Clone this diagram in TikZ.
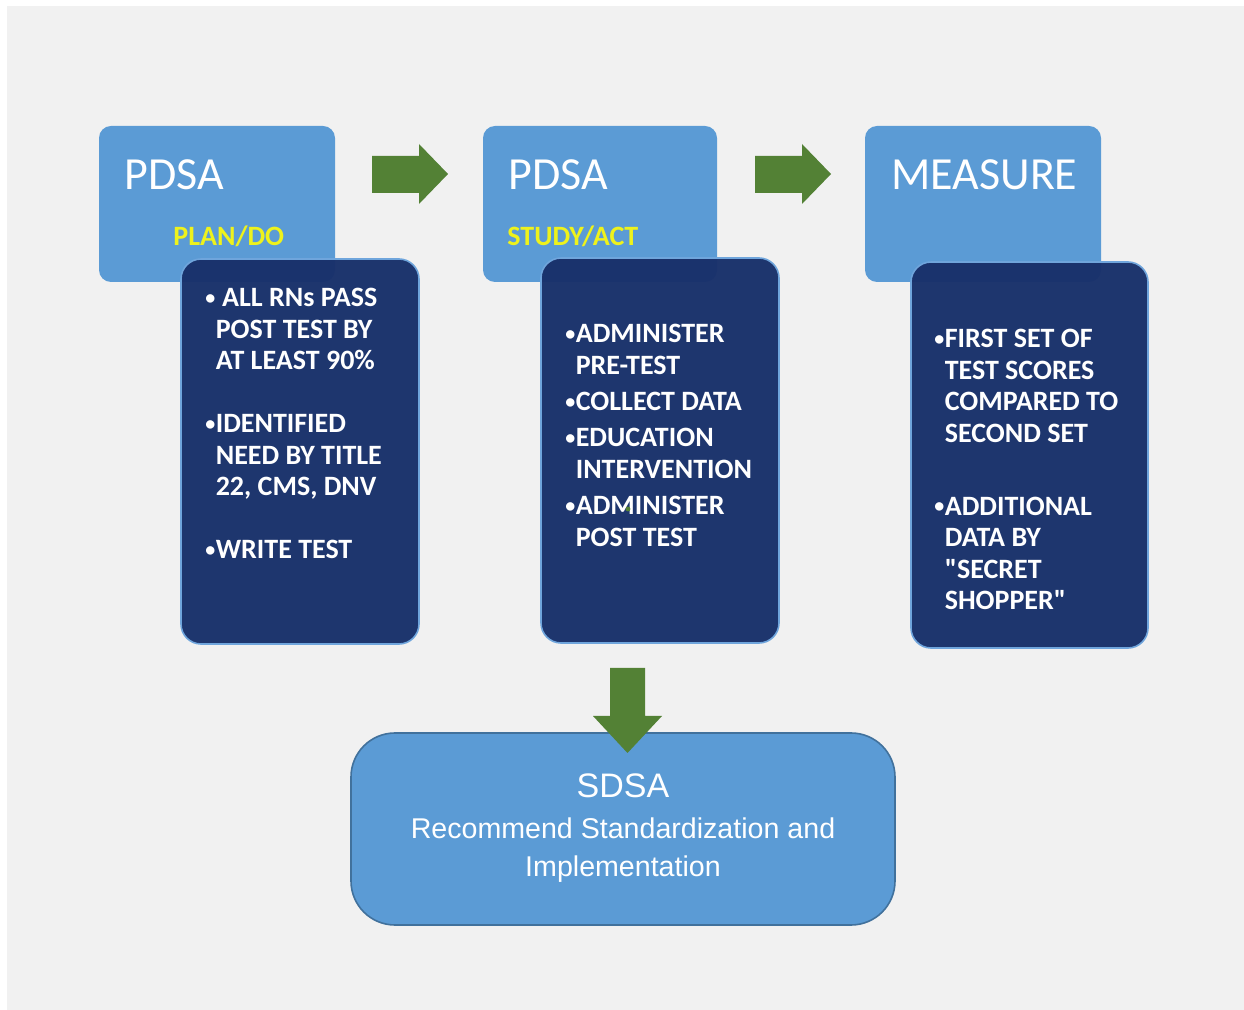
\documentclass[tikz,border=0pt]{standalone}
\usepackage{fontspec}
\newfontfamily\calfont{Carlito}
\newfontfamily\arfont{Liberation Sans}
\definecolor{lblue}{HTML}{5B9BD5}
\definecolor{navy}{HTML}{18306A}
\definecolor{grn}{HTML}{538135}
\definecolor{ylw}{HTML}{EEF21C}
\definecolor{bgray}{HTML}{F1F1F1}
\definecolor{bord}{HTML}{41719C}
\definecolor{dbord}{HTML}{6FA5DC}
\newcommand{\bu}{\makebox[5.2pt][l]{\raisebox{1.2pt}{\fontsize{10}{10}\selectfont •}}}
\newcommand{\hg}{\hspace*{5.2pt}}
\begin{document}
\begin{tikzpicture}[x=0.5pt,y=-0.5pt,
  lightbox/.style={fill=lblue, rounded corners=6pt, inner sep=0pt, outer sep=0pt, anchor=north west},
  darkbox/.style={fill=navy, fill opacity=0.97, draw=dbord, line width=0.8pt, rounded corners=10pt, inner sep=0pt, outer sep=0pt, anchor=north west},
  bigbox/.style={fill=lblue, draw=bord, line width=0.8pt, rounded corners=22pt, inner sep=0pt, outer sep=0pt, anchor=north west},
  titletxt/.style={font=\calfont\fontsize{23}{27}\selectfont, text=white, anchor=base west, inner sep=0pt},
  subtxt/.style={font=\calfont\bfseries\fontsize{14}{16}\selectfont, text=ylw, anchor=base west, inner sep=0pt},
  bultxt/.style={text=white, align=left, anchor=north west, inner sep=0pt},
  garrow/.style={fill=grn}
]
\useasboundingbox (0,0) rectangle (1244,1010);
\fill[white] (0,0) rectangle (1244,1010);
\fill[bgray] (7,6) rectangle (1244,1010);

% light header boxes
\node[lightbox, minimum width=118pt, minimum height=78pt] (l1) at (99,126) {};
\node[lightbox, minimum width=117pt, minimum height=78pt] (l2) at (483,126) {};
\node[lightbox, minimum width=118pt, minimum height=78pt] (l3) at (865,126) {};

% dark content boxes
\node[darkbox, minimum width=119pt, minimum height=192.5pt] (d1) at (181,259) {};
\node[darkbox, minimum width=119pt, minimum height=192.5pt] (d2) at (541,258) {};
\node[darkbox, minimum width=118.5pt, minimum height=193pt] (d3) at (911,262) {};

% titles
\node[titletxt] (t1) at (124,190) {PDSA};
\node[subtxt] (s1) at (173,246) {PLAN/DO};
\node[titletxt] (t2) at (508,190) {PDSA};
\node[subtxt] (s2) at (507,246) {STUDY/ACT};
\node[titletxt] (t3) at (891,190) {MEASURE};

% bullet texts
\node[bultxt, font=\calfont\bfseries\fontsize{14}{15.75}\selectfont] (b1) at (205,288)
 {\bu\ ALL RNs PASS\\\hg POST TEST BY\\\hg AT LEAST 90\%\\[15.75pt]%
  \bu IDENTIFIED\\\hg NEED BY TITLE\\\hg 22, CMS, DNV\\[15.75pt]%
  \bu WRITE TEST};
\node[bultxt, font=\calfont\bfseries\fontsize{14}{16}\selectfont] (b2) at (565,324)
 {\bu ADMINISTER\\\hg PRE-TEST\\[2pt]\bu COLLECT DATA\\[2pt]%
  \bu EDUCATION\\\hg INTERVENTION\\[2pt]\bu ADMINISTER\\\hg POST TEST};
\node[bultxt, font=\calfont\bfseries\fontsize{14}{15.75}\selectfont] (b3) at (934,329)
 {\bu FIRST SET OF\\\hg TEST SCORES\\\hg COMPARED TO\\\hg SECOND SET\\[20.75pt]%
  \bu ADDITIONAL\\\hg DATA BY\\\hg "SECRET\\\hg SHOPPER"};
\fill[grn] (628,509) circle (1.2pt);

% bottom box
\node[bigbox, minimum width=272pt, minimum height=96pt] (sd) at (351,733) {};
\node[font=\arfont\fontsize{17}{20}\selectfont, text=white, anchor=base, inner sep=0pt] (sdt) at (623,798) {SDSA};
\node[font=\arfont\fontsize{14.3}{19}\selectfont, text=white, align=center, anchor=north, inner sep=0pt] (sds) at (623,817)
 {Recommend Standardization and\\Implementation};

% green block arrows
\fill[garrow] (372,156) -- (419,156) -- (419,144) -- (448,174) -- (419,204) -- (419,193) -- (372,193) -- cycle;
\fill[garrow] (755,156) -- (802,156) -- (802,144) -- (831,174) -- (802,204) -- (802,193) -- (755,193) -- cycle;
\fill[garrow] (610,668) -- (645,668) -- (645,716) -- (662,716) -- (627.5,753) -- (593,716) -- (610,716) -- cycle;
\end{tikzpicture}
\end{document}
